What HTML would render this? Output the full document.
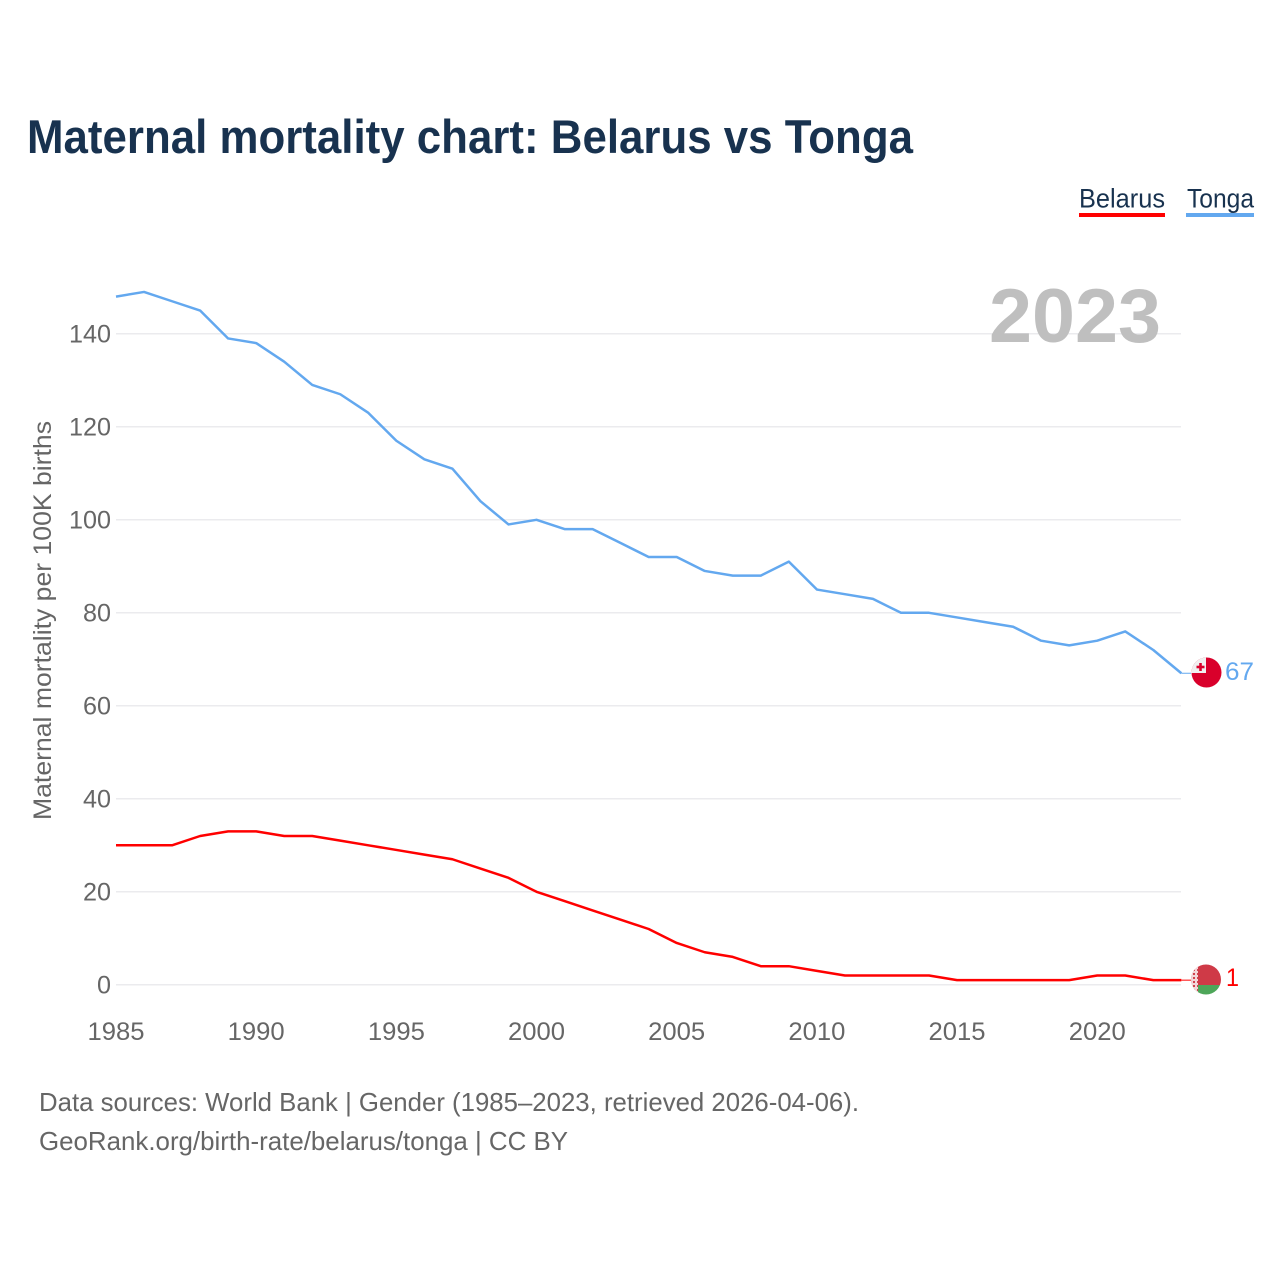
<!DOCTYPE html>
<html lang="en">
<head>
<meta charset="utf-8">
<title>Maternal mortality chart: Belarus vs Tonga</title>
<style>
html,body{margin:0;padding:0;background:#fff;}
svg{display:block;}
text{font-family:"Liberation Sans",sans-serif;}
</style>
</head>
<body>
<svg id="chart" xmlns="http://www.w3.org/2000/svg" width="1280" height="1280" viewBox="0 0 1280 1280">
  <rect width="1280" height="1280" fill="#fff"/>
  <text x="27" y="153" font-size="47" font-weight="700" fill="#18324f" textLength="886" lengthAdjust="spacingAndGlyphs">Maternal mortality chart: Belarus vs Tonga</text>

  <g>
    <text x="1079" y="207.5" font-size="27" fill="#18324f" textLength="86" lengthAdjust="spacingAndGlyphs">Belarus</text>
    <rect x="1079" y="213" width="86" height="4" fill="#ff0000"/>
  </g>
  <g>
    <text x="1187" y="207.5" font-size="27" fill="#18324f" textLength="67" lengthAdjust="spacingAndGlyphs">Tonga</text>
    <rect x="1186" y="213" width="68" height="4" fill="#63a8ef"/>
  </g>

  <g id="grid"></g>
  <g id="yticks"></g>
  <g id="xticks"></g>

  <text x="989" y="342" font-size="76" font-weight="700" fill="#bfbfbf" textLength="172" lengthAdjust="spacingAndGlyphs">2023</text>

  <text transform="translate(51 820) rotate(-90)" x="0" y="0" font-size="25" fill="#666666" textLength="399" lengthAdjust="spacingAndGlyphs">Maternal mortality per 100K births</text>

  <g id="series"></g>

  <defs>
    <clipPath id="tonga-clip"><circle cx="1206.5" cy="672.5" r="15"/></clipPath>
    <clipPath id="belarus-clip"><circle cx="1206" cy="979.5" r="15"/></clipPath>
    <pattern id="belarus-ornament" width="4" height="4" patternUnits="userSpaceOnUse">
      <rect width="4" height="4" fill="#f3d6d9"/>
      <rect x="1" y="1" width="2" height="2" fill="#d0434f"/>
    </pattern>
  </defs>

  <g clip-path="url(#tonga-clip)">
    <rect x="1191" y="657" width="31" height="31" fill="#d9002b"/>
    <rect x="1191" y="657" width="15" height="16" fill="#f0f0f0"/>
    <rect x="1199.2" y="663" width="2.6" height="8" fill="#d9002b"/>
    <rect x="1196.5" y="665.7" width="8" height="2.6" fill="#d9002b"/>
  </g>
  <g clip-path="url(#belarus-clip)">
    <rect x="1191" y="964" width="31" height="21" fill="#cf3a47"/>
    <rect x="1191" y="985" width="31" height="11" fill="#4ea659"/>
    <rect x="1191" y="964" width="7" height="32" fill="url(#belarus-ornament)"/>
  </g>

  <text x="1225" y="680" font-size="25" fill="#63a8ef" textLength="29" lengthAdjust="spacingAndGlyphs">67</text>
  <text x="1226" y="986" font-size="25" fill="#ff0000" textLength="13" lengthAdjust="spacingAndGlyphs">1</text>

  <text x="39" y="1111" font-size="26" fill="#666666" textLength="820" lengthAdjust="spacingAndGlyphs">Data sources: World Bank | Gender (1985–2023, retrieved 2026-04-06).</text>
  <text x="39" y="1150" font-size="26" fill="#666666" textLength="529" lengthAdjust="spacingAndGlyphs">GeoRank.org/birth-rate/belarus/tonga | CC BY</text>
</svg>
<script>
var years = [1985,1986,1987,1988,1989,1990,1991,1992,1993,1994,1995,1996,1997,1998,1999,2000,2001,2002,2003,2004,2005,2006,2007,2008,2009,2010,2011,2012,2013,2014,2015,2016,2017,2018,2019,2020,2021,2022,2023];
var belarus = [30,30,30,32,33,33,32,32,31,30,29,28,27,25,23,20,18,16,14,12,9,7,6,4,4,3,2,2,2,2,1,1,1,1,1,2,2,1,1];
var tonga = [148,149,147,145,139,138,134,129,127,123,117,113,111,104,99,100,98,98,95,92,92,89,88,88,91,85,84,83,80,80,79,78,77,74,73,74,76,72,67];
var yTickValues = [0,20,40,60,80,100,120,140];
var xTickValues = [1985,1990,1995,2000,2005,2010,2015,2020];

var NS = 'http://www.w3.org/2000/svg';
function xScale(year){ return 116 + (year - 1985) * 28.035; }
function yScale(v){ return 984.8 - v * 4.65; }
function make(tag, attrs, parent){
  var el = document.createElementNS(NS, tag);
  for (var k in attrs) { el.setAttribute(k, attrs[k]); }
  parent.appendChild(el);
  return el;
}

var gridG = document.getElementById('grid');
var yG = document.getElementById('yticks');
yTickValues.forEach(function(v){
  var ln = make('line', {x1:116, x2:1181, y1:yScale(v), y2:yScale(v), stroke:'#ebebee', 'stroke-width':1.5}, gridG);
  
  
  var label = String(v);
  var t = make('text', {x:111, y:yScale(v)+8.5, 'text-anchor':'end', 'font-size':25, fill:'#666666', textLength:label.length*14, lengthAdjust:'spacingAndGlyphs'}, yG);
  t.textContent = label;
  
  
});

var xG = document.getElementById('xticks');
xTickValues.forEach(function(yr){
  var t = make('text', {x:xScale(yr), y:1040, 'text-anchor':'middle', 'font-size':25, fill:'#666666', textLength:57, lengthAdjust:'spacingAndGlyphs'}, xG);
  t.textContent = String(yr);
  
  
});

function drawSeries(values, color, name){
  var pts = values.map(function(v, i){ return xScale(years[i]).toFixed(2) + ',' + yScale(v).toFixed(2); }).join(' ');
  var seriesG = document.getElementById('series');
  var p = make('polyline', {points:pts, fill:'none', stroke:color, 'stroke-width':2.5, 'stroke-linejoin':'round'}, seriesG);
  
  
  var last = values[values.length - 1];
  var lastX = xScale(years[years.length - 1]);
  var c = make('line', {x1:lastX, x2:1191, y1:yScale(last), y2:yScale(last), stroke:color, 'stroke-width':1}, seriesG);
  
  
}
drawSeries(tonga, '#63a8ef', 'line-tonga');
drawSeries(belarus, '#ff0000', 'line-belarus');
</script>
</body>
</html>
